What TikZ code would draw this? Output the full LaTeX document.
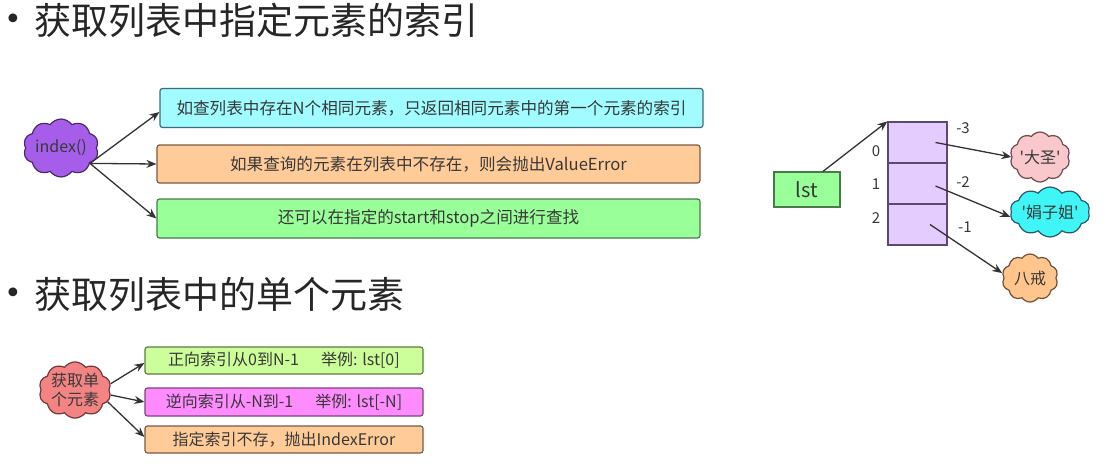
\documentclass[tikz,border=0pt]{standalone}
\usepackage{fontspec}
\newfontfamily\cjk{Noto Sans CJK SC}
\newfontfamily\dejavu{DejaVu Sans}
\usetikzlibrary{shapes.symbols,arrows.meta}
\definecolor{txtgray}{HTML}{383838}
\definecolor{titlegray}{HTML}{262626}
\definecolor{arrgray}{HTML}{333333}
\definecolor{cyanF}{HTML}{A0FCFF}\definecolor{cyanD}{HTML}{3F6B78}
\definecolor{orangeF}{HTML}{FFCC99}\definecolor{orangeD}{HTML}{7A5A45}
\definecolor{greenF}{HTML}{99FF99}\definecolor{greenD}{HTML}{4A7A4A}
\definecolor{limeF}{HTML}{CCFF99}\definecolor{limeD}{HTML}{5F7A45}
\definecolor{magF}{HTML}{FF8CFF}\definecolor{magD}{HTML}{7A457A}
\definecolor{lavF}{HTML}{E5CCFF}\definecolor{lavD}{HTML}{5A4A6E}
\definecolor{purpF}{HTML}{A65EEA}\definecolor{purpD}{HTML}{4A2A6A}
\definecolor{pinkF}{HTML}{F8C8CC}\definecolor{pinkD}{HTML}{6E4A4C}
\definecolor{aquaF}{HTML}{40F5F5}\definecolor{aquaD}{HTML}{2A5A6A}
\definecolor{peachF}{HTML}{FFC58C}\definecolor{peachD}{HTML}{6E5038}
\definecolor{coralF}{HTML}{F48484}\definecolor{coralD}{HTML}{6E3A3A}
\begin{document}
\begin{tikzpicture}[x=1pt,y=-1pt,
  txtbox/.style={rectangle, rounded corners=2.5pt, line width=1.2pt, inner sep=0pt,
    text=txtgray, font=\cjk\fontsize{16.6}{20}\selectfont},
  smallbox/.style={txtbox, font=\cjk\fontsize{16}{19}\selectfont,
    minimum width=278pt},
  cloudnode/.style={cloud, cloud puffs=10, cloud puff arc=110, cloud ignores aspect,
    inner sep=0pt, line width=1.2pt, text=txtgray, font=\cjk\fontsize{16}{18}\selectfont},
  arr/.style={draw=arrgray, line width=1.3pt, -{Stealth[length=10pt,width=8pt]}},
  lbl/.style={inner sep=0pt, text=txtgray, font=\cjk\fontsize{15}{18}\selectfont},
  title/.style={anchor=west, inner sep=0pt, text=titlegray, font=\cjk\fontsize{37}{42}\selectfont},
  bullet/.style={inner sep=0pt, text=titlegray, font=\dejavu\fontsize{30}{34}\selectfont},
  cell/.style={rectangle, draw=lavD, fill=lavF, line width=1.2pt, minimum width=59pt, minimum height=41pt, inner sep=0pt}
]
\fill[white] (0,0) rectangle (1110,463);
\useasboundingbox (0,0) rectangle (1110,463);

% titles
\node[bullet] (bul1) at (13,22) {•};
\node[title] (t1) at (34,20) {获取列表中指定元素的索引};
\node[bullet] (bul2) at (13,296) {•};
\node[title] (t2) at (34,294) {获取列表中的单个元素};

% index part
\node[cloudnode, fill=purpF, draw=purpD, minimum width=75pt, minimum height=58pt] (idx) at (61,148) {index()};
\node[txtbox, fill=cyanF, draw=cyanD, minimum width=543pt, minimum height=39pt] (b1) at (431.5,108) {如查列表中存在N个相同元素，只返回相同元素中的第一个元素的索引};
\node[txtbox, fill=orangeF, draw=orangeD, minimum width=543pt, minimum height=38pt] (b2) at (428.5,164) {如果查询的元素在列表中不存在，则会抛出ValueError};
\node[txtbox, fill=greenF, draw=greenD, minimum width=543pt, minimum height=39pt] (b3) at (428.5,218.5) {还可以在指定的start和stop之间进行查找};
\draw[arr] (idx.-28) -- ([yshift=-4pt]b1.west);
\draw[arr] (idx.-28) -- (b2.west);
\draw[arr] (idx.-28) -- (b3.west);

% list part
\node[rectangle, draw=greenD, fill=greenF, line width=1.2pt, minimum width=66pt, minimum height=35pt, inner sep=0pt, text=txtgray, font=\cjk\fontsize{20}{24}\selectfont] (lst) at (807,189.5) {lst};
\node[cell] (c0) at (917.5,142.5) {};
\node[cell] (c1) at (917.5,183.5) {};
\node[cell] (c2) at (917.5,224.5) {};
\node[lbl] (i0) at (876,151) {0};
\node[lbl] (i1) at (876,184) {1};
\node[lbl] (i2) at (876,218) {2};
\node[lbl] (n3) at (963,128) {-3};
\node[lbl] (n2) at (963,182) {-2};
\node[lbl] (n1) at (965,227) {-1};
\node[cloudnode, fill=pinkF, draw=pinkD, minimum width=60pt, minimum height=50pt] (v1) at (1040,157) {'大圣'};
\node[cloudnode, fill=aquaF, draw=aquaD, minimum width=78pt, minimum height=50pt] (v2) at (1050,212) {'娟子姐'};
\node[cloudnode, fill=peachF, draw=peachD, minimum width=56pt, minimum height=48pt] (v3) at (1030,278) {八戒};
\draw[arr] ([xshift=16pt]lst.north) -- (c0.north west);
\draw[arr] ([xshift=18pt]c0.center) -- (v1.west);
\draw[arr] ([xshift=18pt,yshift=-2.5pt]c1.center) -- (v2.187);
\draw[arr] ([xshift=12.5pt]c2.center) -- (v3.170);

% single element part
\node[cloudnode, fill=coralF, draw=coralD, minimum width=72pt, minimum height=56pt, align=center, font=\cjk\fontsize{16}{19}\selectfont] (get) at (75,390) {获取单\\个元素};
\node[smallbox, fill=limeF, draw=limeD, minimum height=27pt] (s1) at (284,360.5) {正向索引从0到N-1\hspace{22pt}举例: lst[0]};
\node[smallbox, fill=magF, draw=magD, minimum height=28pt] (s2) at (284,402) {逆向索引从-N到-1\hspace{22pt}举例: lst[-N]};
\node[smallbox, fill=orangeF, draw=orangeD, minimum height=27pt] (s3) at (284,439.5) {指定索引不存，抛出IndexError};
\draw[arr] (get.10) -- ([yshift=-2.5pt]s1.west);
\draw[arr] (get.-8) -- (s2.west);
\draw[arr] (get.-20) -- ([yshift=2.5pt]s3.west);
\end{tikzpicture}
\end{document}
